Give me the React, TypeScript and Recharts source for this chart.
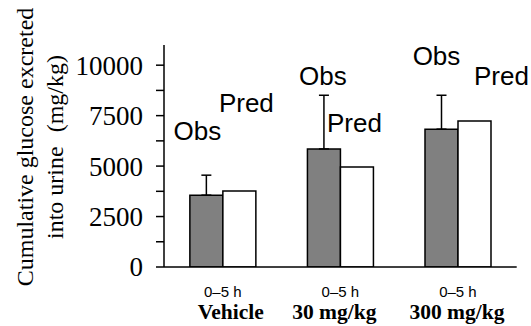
import { Bar, BarChart, ErrorBar, LabelList, XAxis, YAxis } from "recharts";

const groups = ["Vehicle", "30 mg/kg", "300 mg/kg"];
const period = ["0–5 h", "0–5 h", "0–5 h"];
const observed = [3560, 5850, 6830];
const observedSd = [990, 2660, 1680];
const predicted = [3770, 4960, 7240];
const yTicks = [0, 1250, 2500, 3750, 5000, 6250, 7500, 8750, 10000];
const yLabelled = [0, 2500, 5000, 7500, 10000];

// nudges for the Obs / Pred tags, measured from the top centre of each bar
const obsTagPos = [[-9, -55], [-1, -64], [-5, -64]];
const predTagPos = [[7, -79], [-2.5, -35], [27, -36]];
const groupNameShift = [8, -6, -1];

const data = groups.map((g, i) => ({
  group: g,
  period: period[i],
  obs: observed[i],
  obsErr: [0, observedSd[i]],
  pred: predicted[i],
}));

const SANS = "'Liberation Sans', Arial, sans-serif";
const SERIF = "'Liberation Serif', 'Times New Roman', serif";

function barTag(text: string, pos: number[][]) {
  return (props: any) => {
    const vb = props.viewBox ?? props;
    const i = props.index ?? 0;
    const [dx, dy] = pos[i];
    return (
      <text x={vb.x + vb.width / 2 + dx} y={vb.y + dy} textAnchor="middle"
            style={{ fontFamily: SANS, fontSize: 26 }} fill="#000">
        {text}
      </text>
    );
  };
}

const YTick = (props: any) => {
  const { x, y, payload } = props;
  if (!yLabelled.includes(payload.value)) return <g />;
  return (
    <text x={x} y={y} dy="0.35em" textAnchor="end"
          style={{ fontFamily: SERIF, fontSize: 27 }} fill="#000">
      {payload.value}
    </text>
  );
};

const GroupTick = (props: any) => {
  const { x, y, index } = props;
  return (
    <g>
      <text x={x} y={y + 30} textAnchor="middle"
            style={{ fontFamily: SANS, fontSize: 15 }} fill="#000">
        {period[index]}
      </text>
      <text x={x + groupNameShift[index]} y={y + 52} textAnchor="middle"
            style={{ fontFamily: SERIF, fontSize: 21.5, fontWeight: "bold" }} fill="#000">
        {groups[index]}
      </text>
    </g>
  );
};

const YTitle = (props: any) => {
  const vb = props.viewBox;
  const cy = vb.y + vb.height / 2 - 9;
  return (
    <text transform={`translate(${vb.x + 33}, ${cy}) rotate(-90)`} textAnchor="middle"
          style={{ fontFamily: SERIF, fontSize: 24 }} fill="#000">
      <tspan x={0} y={0}>Cumulative glucose excreted</tspan>
      <tspan x={0} y={30}>into urine</tspan>
      <tspan dx={14}>(mg/kg)</tspan>
    </text>
  );
};

export default function App() {
  return (
    <div style={{ position: "absolute", left: 0, top: 0, background: "#fff" }}>
      <BarChart width={531} height={326} data={data}
                margin={{ top: 45, right: 14.3, bottom: 0, left: 0 }}
                barCategoryGap="22%" barGap={0}>
        <XAxis xAxisId="edges" type="number" domain={[0, groups.length]}
               ticks={[0, 1, 2, 3]} allowDataOverflow height={0}
               axisLine={false} tickLine={{ stroke: "#000", strokeWidth: 1.5 }}
               tickSize={7} tickFormatter={() => ""} />
        <XAxis xAxisId="cat" dataKey="group" height={59} tickSize={0} tickMargin={0}
               axisLine={{ stroke: "#000", strokeWidth: 1.5 }} tickLine={false}
               tick={<GroupTick />} interval={0} />
        <YAxis width={164} domain={[0, 11000]} ticks={yTicks} interval={0}
               allowDataOverflow tickSize={8} tickMargin={13}
               axisLine={{ stroke: "#000", strokeWidth: 1.5 }}
               tickLine={{ stroke: "#000", strokeWidth: 1.5 }}
               tick={<YTick />} label={<YTitle />} />
        <Bar xAxisId="cat" dataKey="obs" fill="#808080" stroke="#000" strokeWidth={1.5}
             isAnimationActive={false}>
          <ErrorBar dataKey="obsErr" direction="y" width={5} stroke="#000" strokeWidth={1.5} />
          <LabelList dataKey="obs" content={barTag("Obs", obsTagPos)} />
        </Bar>
        <Bar xAxisId="cat" dataKey="pred" fill="#fff" stroke="#000" strokeWidth={1.5}
             isAnimationActive={false}>
          <LabelList dataKey="pred" content={barTag("Pred", predTagPos)} />
        </Bar>
      </BarChart>
    </div>
  );
}
